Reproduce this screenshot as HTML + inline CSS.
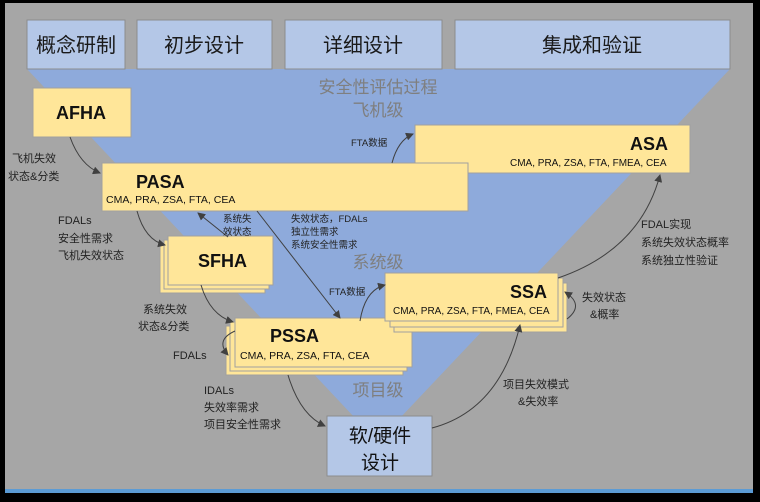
<!DOCTYPE html>
<html><head><meta charset="utf-8"><style>
html,body{margin:0;padding:0;background:#000;}
svg{display:block;}
text{font-family:"Liberation Sans","Noto Sans CJK SC",sans-serif;}
</style></head><body>
<svg width="760" height="502" viewBox="0 0 760 502" xmlns="http://www.w3.org/2000/svg">
<defs>
<marker id="a" markerWidth="8" markerHeight="8" refX="7" refY="4" orient="auto" markerUnits="userSpaceOnUse"><path d="M0,0 L8,4 L0,8 Z" fill="#404040"/></marker>
</defs>
<rect x="0" y="0" width="760" height="502" fill="#000"/>
<rect x="5" y="3" width="748" height="488" fill="#a6a6a6"/>
<rect x="5" y="489" width="748" height="4" fill="#5b9bd5"/>
<polygon points="27,69 730,69 400,418 355,418" fill="#8eaadb"/>
<g fill="#b4c7e7" stroke="#8c8c8c" stroke-width="1">
<rect x="27" y="20" width="98" height="49"/>
<rect x="137" y="20" width="135" height="49"/>
<rect x="285" y="20" width="157" height="49"/>
<rect x="455" y="20" width="275" height="49"/>
</g>
<g font-size="20" fill="#1a1a1a" text-anchor="middle">
<text x="76" y="52">概念研制</text>
<text x="204" y="52">初步设计</text>
<text x="363" y="52">详细设计</text>
<text x="592" y="52">集成和验证</text>
</g>
<g fill="#7f7f7f" font-size="17" text-anchor="middle">
<text x="378" y="93">安全性评估过程</text>
<text x="378" y="116">飞机级</text>
<text x="378" y="268">系统级</text>
<text x="378" y="396">项目级</text>
</g>
<g fill="#ffe699" stroke="#a0a0a0" stroke-width="1">
<rect x="33" y="88" width="98" height="49"/>
<rect x="415" y="125" width="275" height="48"/>
<rect x="102" y="163" width="366" height="48"/>
<rect x="160" y="244" width="105" height="49"/>
<rect x="164" y="240" width="105" height="49"/>
<rect x="168" y="236" width="105" height="49"/>
<rect x="226" y="326" width="177" height="49"/>
<rect x="230" y="322" width="177" height="49"/>
<rect x="235" y="318" width="177" height="49"/>
<rect x="394" y="283" width="173" height="49"/>
<rect x="390" y="278" width="173" height="49"/>
<rect x="385" y="273" width="173" height="48"/>
</g>
<rect x="327" y="416" width="105" height="60" fill="#b4c7e7" stroke="#8c8c8c"/>
<g font-weight="bold" font-size="18" fill="#111">
<text x="56" y="119">AFHA</text>
<text x="136" y="188">PASA</text>
<text x="630" y="150">ASA</text>
<text x="198" y="267">SFHA</text>
<text x="270" y="342">PSSA</text>
<text x="510" y="298">SSA</text>
</g>
<g font-size="10.5" fill="#111">
<text x="106" y="203">CMA,  PRA, ZSA, FTA, CEA</text>
<text x="510" y="166" font-size="10">CMA,  PRA, ZSA, FTA, FMEA, CEA</text>
<text x="240" y="359">CMA,  PRA, ZSA, FTA, CEA</text>
<text x="393" y="314" font-size="10">CMA,  PRA, ZSA, FTA, FMEA, CEA</text>
</g>
<g font-size="19" fill="#111" text-anchor="middle">
<text x="380" y="442">软/硬件</text>
<text x="380" y="469">设计</text>
</g>
<g fill="none" stroke="#404040" stroke-width="1" marker-end="url(#a)">
<path d="M70,137 Q80,165 100,173"/>
<path d="M137,211 Q145,240 165,245"/>
<path d="M228,237 L198,213"/>
<path d="M257,211 L340,318"/>
<path d="M201,285 Q210,315 233,322"/>
<path d="M235,331 Q215,340 228,355"/>
<path d="M288,375 Q300,415 325,426"/>
<path d="M432,428 Q500,410 520,325"/>
<path d="M360,321 Q365,290 385,285"/>
<path d="M392,163 Q398,140 413,134"/>
<path d="M558,278 Q640,250 660,175"/>
<path d="M567,319 Q585,305 565,292"/>
</g>
<g font-size="11" fill="#222">
<text x="12" y="162">飞机失效</text>
<text x="8" y="180">状态&amp;分类</text>
<text x="58" y="224">FDALs</text>
<text x="58" y="242">安全性需求</text>
<text x="58" y="259">飞机失效状态</text>
<text x="223" y="222" font-size="9.5">系统失</text>
<text x="223" y="235" font-size="9.5">效状态</text>
<text x="291" y="222" font-size="9.5">失效状态，FDALs</text>
<text x="291" y="235" font-size="9.5">独立性需求</text>
<text x="291" y="248" font-size="9.5">系统安全性需求</text>
<text x="143" y="313">系统失效</text>
<text x="138" y="330">状态&amp;分类</text>
<text x="173" y="359">FDALs</text>
<text x="204" y="394">IDALs</text>
<text x="204" y="411">失效率需求</text>
<text x="204" y="428">项目安全性需求</text>
<text x="329" y="295" font-size="9.5">FTA数据</text>
<text x="351" y="146" font-size="9.5">FTA数据</text>
<text x="641" y="228">FDAL实现</text>
<text x="641" y="246">系统失效状态概率</text>
<text x="641" y="264">系统独立性验证</text>
<text x="582" y="301">失效状态</text>
<text x="590" y="318">&amp;概率</text>
<text x="503" y="388">项目失效模式</text>
<text x="518" y="405">&amp;失效率</text>
</g>
</svg>
</body></html>
